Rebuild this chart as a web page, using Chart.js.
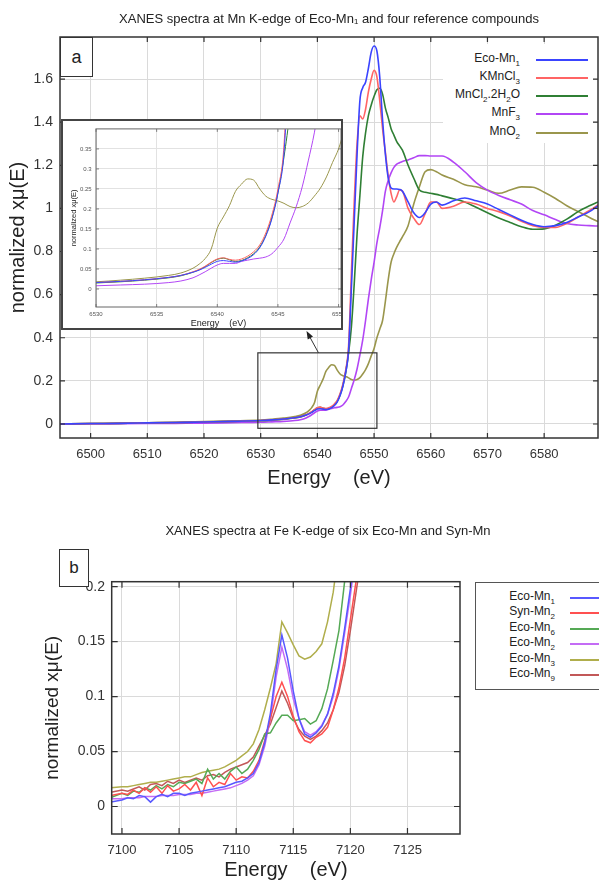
<!DOCTYPE html>
<html>
<head>
<meta charset="utf-8">
<script src="https://cdn.jsdelivr.net/npm/chart.js@4.4.1/dist/chart.umd.min.js"></script>
<style>
  html, body { margin: 0; padding: 0; background: #fff; }
  #page { position: relative; width: 599px; height: 882px; overflow: hidden;
          font-family: "Liberation Sans", Arial, Helvetica, sans-serif; color: #222; }
  canvas { position: absolute; display: block; }
  .title { position: absolute; font-size: 13px; line-height: 15px; white-space: nowrap;
           transform: translateX(-50%); color: #222; }
  .tag { position: absolute; box-sizing: border-box; border: 1.5px solid #333; background: #fff;
         display: flex; align-items: center; justify-content: center; color: #222; }
  .legend { position: absolute; background: #fff; box-sizing: border-box; }
  .lgText { position: absolute; text-align: right; line-height: 14px; white-space: nowrap; color: #222; }
  .lgLine { position: absolute; height: 2px; }
  sub { font-size: 8px; line-height: 0; vertical-align: -4px; }
  #insetBox { position: absolute; left: 61px; top: 119px; width: 282px; height: 211px;
              box-sizing: border-box; border: 2px solid #444; background: #fff; overflow: hidden; }
</style>
</head>
<body>
<div id="page">
  <canvas id="mnChart" width="599" height="495" style="left:0;top:0"></canvas>
  <div class="title" style="left:329px;top:10.5px">XANES spectra at Mn K-edge of Eco-Mn₁ and four reference compounds</div>
  <div class="tag" style="left:60px;top:37px;width:33px;height:40px;font-size:18px">a</div>
  <div id="mnLegend" class="legend" style="left:443px;top:44px;width:150px;height:99px"></div>
  <div id="insetBox"><canvas id="insetChart" width="300" height="207" style="left:0;top:0"></canvas></div>

  <canvas id="feChart" width="599" height="382" style="left:0;top:500px"></canvas>
  <div class="title" style="left:328px;top:522.5px">XANES spectra at Fe K-edge of six Eco-Mn and Syn-Mn</div>
  <div class="tag" style="left:59px;top:549px;width:30px;height:38px;font-size:17px">b</div>
  <div id="feLegend" class="legend" style="left:475px;top:582px;width:140px;height:108px;border:1px solid #555"></div>
</div>

<script>
// ---------- Mn K-edge spectra (panel a) ----------
const mnEnergy = [
  6494.6, 6500, 6505, 6510, 6515, 6520, 6525, 6530,
  6532, 6534, 6536, 6537, 6538, 6538.5, 6539, 6539.5,
  6540, 6540.5, 6541, 6541.5, 6542, 6542.5, 6543, 6543.5,
  6544, 6544.5, 6545, 6545.5, 6546, 6546.5, 6547, 6547.5,
  6548, 6548.5, 6549, 6549.5, 6550, 6550.5, 6551, 6551.5,
  6552, 6552.5, 6553, 6553.5, 6554, 6554.5, 6555, 6556,
  6557, 6558, 6559, 6560, 6561, 6562, 6564, 6566,
  6568, 6570, 6572, 6574, 6576, 6578, 6580, 6582,
  6584, 6586, 6588, 6589.5
];
const mnEcoMn1 = [
  0.000, 0.002, 0.003, 0.005, 0.007, 0.009, 0.012, 0.016,
  0.019, 0.023, 0.029, 0.034, 0.042, 0.047, 0.054, 0.062,
  0.069, 0.071, 0.069, 0.067, 0.070, 0.076, 0.086, 0.103,
  0.132, 0.175, 0.240, 0.340, 0.630, 0.940, 1.250, 1.500,
  1.560, 1.585, 1.650, 1.725, 1.753, 1.730, 1.610, 1.410,
  1.250, 1.140, 1.095, 1.090, 1.090, 1.088, 1.080, 1.030,
  0.980, 0.958, 0.980, 1.020, 1.030, 1.015, 1.035, 1.048,
  1.035, 1.020, 0.995, 0.970, 0.945, 0.925, 0.915, 0.920,
  0.935, 0.960, 0.985, 1.012
];
const mnKMnCl3 = [
  0.000, 0.002, 0.003, 0.005, 0.007, 0.009, 0.012, 0.016,
  0.019, 0.023, 0.029, 0.034, 0.043, 0.049, 0.057, 0.067,
  0.075, 0.078, 0.074, 0.072, 0.075, 0.082, 0.093, 0.110,
  0.140, 0.185, 0.250, 0.360, 0.700, 1.030, 1.300, 1.430,
  1.415, 1.460, 1.540, 1.600, 1.640, 1.610, 1.500, 1.370,
  1.260, 1.150, 1.070, 1.030, 1.055, 1.085, 1.080, 1.000,
  0.955, 0.925, 0.975, 1.030, 1.030, 1.000, 1.010, 1.030,
  1.020, 1.000, 0.985, 0.965, 0.940, 0.920, 0.912, 0.912,
  0.930, 0.960, 0.990, 1.016
];
const mnMnCl2 = [
  0.000, 0.002, 0.003, 0.005, 0.007, 0.009, 0.012, 0.015,
  0.018, 0.022, 0.028, 0.033, 0.042, 0.048, 0.056, 0.066,
  0.074, 0.077, 0.073, 0.069, 0.071, 0.078, 0.088, 0.105,
  0.134, 0.178, 0.240, 0.330, 0.450, 0.650, 0.880, 1.060,
  1.240, 1.350, 1.430, 1.480, 1.520, 1.550, 1.557, 1.530,
  1.465, 1.420, 1.370, 1.340, 1.310, 1.290, 1.270, 1.200,
  1.140, 1.085, 1.075, 1.070, 1.065, 1.058, 1.045, 1.030,
  1.005, 0.980, 0.955, 0.935, 0.915, 0.903, 0.905, 0.922,
  0.950, 0.985, 1.012, 1.030
];
const mnMnF3 = [
  0.000, 0.000, 0.001, 0.002, 0.003, 0.004, 0.006, 0.008,
  0.010, 0.012, 0.016, 0.020, 0.028, 0.035, 0.043, 0.052,
  0.060, 0.064, 0.064, 0.064, 0.069, 0.072, 0.075, 0.077,
  0.080, 0.088, 0.104, 0.125, 0.165, 0.205, 0.255, 0.320,
  0.390, 0.480, 0.580, 0.670, 0.750, 0.840, 0.910, 0.990,
  1.080, 1.130, 1.165, 1.190, 1.205, 1.212, 1.218, 1.225,
  1.235, 1.245, 1.245, 1.243, 1.243, 1.243, 1.215, 1.170,
  1.120, 1.085, 1.060, 1.040, 1.020, 0.990, 0.970, 0.948,
  0.930, 0.923, 0.920, 0.918
];
const mnMnO2 = [
  0.000, 0.002, 0.004, 0.006, 0.008, 0.011, 0.014, 0.018,
  0.022, 0.027, 0.034, 0.040, 0.052, 0.062, 0.076, 0.100,
  0.152, 0.180, 0.208, 0.244, 0.262, 0.275, 0.272, 0.250,
  0.232, 0.224, 0.220, 0.214, 0.206, 0.203, 0.206, 0.215,
  0.232, 0.252, 0.280, 0.316, 0.350, 0.400, 0.440, 0.480,
  0.570, 0.670, 0.750, 0.790, 0.820, 0.845, 0.868, 0.920,
  1.020, 1.100, 1.170, 1.180, 1.170, 1.155, 1.135, 1.110,
  1.100, 1.085, 1.070, 1.085, 1.100, 1.098, 1.075, 1.046,
  1.012, 0.985, 0.958, 0.939
];
const mnNames  = ['Eco-Mn₁', 'KMnCl₃', 'MnCl₂.2H₂O', 'MnF₃', 'MnO₂'];
const mnColors = ['#3a44ff', '#ff6464', '#2f7f34', '#b246f5', '#9a964c'];
const mnTicksX = [6500, 6510, 6520, 6530, 6540, 6550, 6560, 6570, 6580];
const mnTicksY = [0, 0.2, 0.4, 0.6, 0.8, 1, 1.2, 1.4, 1.6];
const insetTicksX = [6530, 6535, 6540, 6545, 6550];
const insetTicksY = [0, 0.05, 0.1, 0.15, 0.2, 0.25, 0.3, 0.35];
// energy / absorption window enlarged in the inset
const insetWindowE = [6529.5, 6550.5];
const insetWindowMu = [-0.02, 0.33];

// ---------- Fe K-edge spectra (panel b) ----------
const feEnergy = [
  7099, 7100, 7100.5, 7101, 7101.5, 7102, 7102.5, 7103,
  7103.5, 7104, 7104.5, 7105, 7105.5, 7106, 7106.5, 7107,
  7107.5, 7108, 7108.5, 7109, 7109.5, 7110, 7110.5, 7111,
  7111.5, 7112, 7112.5, 7113, 7113.5, 7114, 7114.5, 7115,
  7115.5, 7116, 7116.5, 7117, 7117.5, 7118, 7118.5, 7119,
  7119.5, 7120, 7120.5, 7121
];
const feEcoMn1 = [
  0.004, 0.006, 0.008, 0.007, 0.010, 0.009, 0.004, 0.009,
  0.011, 0.009, 0.012, 0.012, 0.010, 0.012, 0.013, 0.014,
  0.015, 0.016, 0.017, 0.018, 0.020, 0.022, 0.023, 0.026,
  0.030, 0.040, 0.058, 0.085, 0.125, 0.156, 0.135, 0.105,
  0.080, 0.066, 0.063, 0.067, 0.073, 0.084, 0.103, 0.128,
  0.162, 0.198, 0.240, 0.280
];
const feSynMn2 = [
  0.010, 0.012, 0.011, 0.015, 0.012, 0.017, 0.013, 0.018,
  0.012, 0.019, 0.014, 0.016, 0.020, 0.015, 0.022, 0.010,
  0.026, 0.018, 0.022, 0.020, 0.030, 0.024, 0.027, 0.026,
  0.032, 0.042, 0.060, 0.080, 0.100, 0.113, 0.100, 0.082,
  0.068, 0.060, 0.058, 0.063, 0.066, 0.072, 0.088, 0.108,
  0.135, 0.170, 0.205, 0.240
];
const feEcoMn6 = [
  0.008, 0.012, 0.010, 0.014, 0.013, 0.017, 0.015, 0.019,
  0.016, 0.020, 0.018, 0.022, 0.021, 0.023, 0.025, 0.021,
  0.034, 0.025, 0.030, 0.025, 0.032, 0.036, 0.030, 0.034,
  0.042, 0.052, 0.066, 0.067, 0.076, 0.083, 0.083, 0.078,
  0.079, 0.080, 0.075, 0.078, 0.089, 0.107, 0.133, 0.160,
  0.205, 0.250, 0.300, 0.350
];
const feEcoMn2 = [
  0.007, 0.007, 0.008, 0.008, 0.008, 0.009, 0.009, 0.009,
  0.010, 0.010, 0.010, 0.011, 0.011, 0.011, 0.012, 0.012,
  0.013, 0.014, 0.015, 0.016, 0.017, 0.019, 0.021, 0.024,
  0.028, 0.038, 0.055, 0.080, 0.118, 0.145, 0.125, 0.098,
  0.080, 0.068, 0.065, 0.068, 0.074, 0.084, 0.100, 0.125,
  0.158, 0.192, 0.232, 0.272
];
const feEcoMn3 = [
  0.017, 0.018, 0.018, 0.019, 0.020, 0.021, 0.022, 0.022,
  0.023, 0.024, 0.025, 0.026, 0.027, 0.027, 0.029, 0.031,
  0.032, 0.033, 0.034, 0.036, 0.039, 0.042, 0.046, 0.050,
  0.057, 0.070, 0.088, 0.108, 0.130, 0.168, 0.158, 0.147,
  0.137, 0.134, 0.136, 0.141, 0.148, 0.168, 0.195, 0.235,
  0.280, 0.330, 0.380, 0.420
];
const feEcoMn9 = [
  0.013, 0.015, 0.014, 0.016, 0.018, 0.015, 0.020, 0.021,
  0.019, 0.023, 0.021, 0.024, 0.022, 0.024, 0.026, 0.024,
  0.028, 0.029, 0.027, 0.031, 0.034, 0.036, 0.038, 0.040,
  0.045, 0.055, 0.065, 0.075, 0.090, 0.105, 0.094, 0.080,
  0.070, 0.064, 0.061, 0.064, 0.069, 0.076, 0.088, 0.104,
  0.128, 0.160, 0.195, 0.230
];
const feNames  = ['Eco-Mn₁', 'Syn-Mn₂', 'Eco-Mn₆', 'Eco-Mn₂', 'Eco-Mn₃', 'Eco-Mn₉'];
const feColors = ['#5858ff', '#ff5050', '#55a955', '#c46cf5', '#b0ae4c', '#c25858'];
const feTicksX = [7100, 7105, 7110, 7115, 7120, 7125];
const feTicksY = [0, 0.05, 0.1, 0.15, 0.2];

// ---------- helpers ----------
const FONT = '"Liberation Sans", Arial, Helvetica, sans-serif';
Chart.defaults.font.family = FONT;

const pts = (xs, ys) => xs.map((x, i) => ({ x: x, y: ys[i] }));
const fixedTicks = values => scale => { scale.ticks = values.map(v => ({ value: v })); };
const plain = v => String(v);
const SUB_DIGITS = '₀₁₂₃₄₅₆₇₈₉';
const richName = s => s.replace(/[₀-₉]/g, c => '<sub>' + SUB_DIGITS.indexOf(c) + '</sub>');

// plot frame with inward tick marks on all four sides
const frameTicks = {
  id: 'frameTicks',
  afterDraw(chart, args, o) {
    const { ctx, chartArea: a, scales: { x, y } } = chart;
    ctx.save();
    ctx.strokeStyle = o.color;
    ctx.lineWidth = o.tickWidth;
    ctx.beginPath();
    for (const t of x.ticks) {
      const px = x.getPixelForValue(t.value);
      ctx.moveTo(px, a.bottom); ctx.lineTo(px, a.bottom - o.length);
      ctx.moveTo(px, a.top); ctx.lineTo(px, a.top + o.length);
    }
    for (const t of y.ticks) {
      const py = y.getPixelForValue(t.value);
      ctx.moveTo(a.left, py); ctx.lineTo(a.left + o.length, py);
      ctx.moveTo(a.right, py); ctx.lineTo(a.right - o.length, py);
    }
    ctx.stroke();
    ctx.lineWidth = o.width;
    ctx.strokeRect(a.left, a.top, a.right - a.left, a.bottom - a.top);
    ctx.restore();
  }
};

// box marking the enlarged window, with an arrow pointing to the inset
const zoomMark = {
  id: 'zoomMark',
  afterDatasetsDraw(chart, args, o) {
    const { ctx, scales: { x, y } } = chart;
    const l = x.getPixelForValue(o.e[0]), r = x.getPixelForValue(o.e[1]);
    const t = y.getPixelForValue(o.mu[1]), b = y.getPixelForValue(o.mu[0]);
    ctx.save();
    ctx.strokeStyle = '#333';
    ctx.lineWidth = 1.2;
    ctx.strokeRect(l, t, r - l, b - t);
    const sx = x.getPixelForValue(o.arrowFrom), sy = t;
    const ex = sx - o.dx, ey = o.tipY;
    const ang = Math.atan2(ey - sy, ex - sx), c = Math.cos(ang), s = Math.sin(ang);
    ctx.lineWidth = 1;
    ctx.beginPath(); ctx.moveTo(sx, sy); ctx.lineTo(ex - 5 * c, ey - 5 * s); ctx.stroke();
    ctx.beginPath();
    ctx.moveTo(ex, ey);
    ctx.lineTo(ex - 8 * c + 3 * s, ey - 8 * s - 3 * c);
    ctx.lineTo(ex - 8 * c - 3 * s, ey - 8 * s + 3 * c);
    ctx.closePath();
    ctx.fillStyle = '#222';
    ctx.fill();
    ctx.restore();
  }
};

function lineSets(xs, seriesList, names, colors, width, smooth) {
  return seriesList.map((ys, i) => ({
    label: names[i],
    data: pts(xs, ys),
    borderColor: colors[i],
    borderWidth: width,
    pointRadius: 0,
    fill: false,
    cubicInterpolationMode: smooth ? 'monotone' : 'default',
    tension: 0
  }));
}

function axes(o) {
  return {
    x: {
      type: 'linear', min: o.xMin, max: o.xMax,
      afterBuildTicks: fixedTicks(o.ticksX),
      afterFit: s => { s.height = o.xHeight; },
      grid: { color: o.gridColor, lineWidth: 1, drawTicks: false },
      border: { display: false },
      ticks: { autoSkip: false, maxRotation: 0, padding: o.xPad, color: o.tickColor,
               font: { size: o.xFont, family: FONT }, callback: plain },
      title: { display: true, text: 'Energy    (eV)', color: '#222',
               font: { size: o.xTitleFont, family: FONT, lineHeight: o.xTitleLH || 1.2 },
               padding: { top: 0, bottom: o.xTitlePad } }
    },
    y: {
      type: 'linear', min: o.yMin, max: o.yMax,
      afterBuildTicks: fixedTicks(o.ticksY),
      afterFit: s => { s.width = o.yWidth; },
      grid: { color: o.gridColor, lineWidth: 1, drawTicks: false },
      border: { display: false },
      ticks: { autoSkip: false, padding: o.yPad, color: o.tickColor,
               font: { size: o.yFont, family: FONT }, callback: plain },
      title: { display: true, text: 'normalized xμ(E)', color: '#222',
               font: { size: o.yTitleFont, family: FONT, lineHeight: 1.2 },
               padding: { top: o.yTitlePad, bottom: 0 } }
    }
  };
}

const base = {
  responsive: false, animation: false, devicePixelRatio: 1, events: [],
};

const mnSeries = [mnEcoMn1, mnKMnCl3, mnMnCl2, mnMnF3, mnMnO2];

// main Mn K-edge chart
new Chart(document.getElementById('mnChart'), {
  type: 'line',
  data: { datasets: lineSets(mnEnergy, mnSeries, mnNames, mnColors, 1.6, true) },
  plugins: [zoomMark, frameTicks],
  options: Object.assign({}, base, {
    layout: { padding: { top: 37, right: 1, left: 0, bottom: 0 } },
    plugins: {
      legend: { display: false }, title: { display: false }, tooltip: { enabled: false },
      frameTicks: { color: '#333', width: 1.5, tickWidth: 1.2, length: 5 },
      zoomMark: { e: insetWindowE, mu: insetWindowMu, arrowFrom: 6540.2, dx: 12, tipY: 331 }
    },
    scales: axes({
      xMin: 6494.6, xMax: 6589.5, ticksX: mnTicksX, xHeight: 57, xPad: 9, xFont: 13,
      xTitleFont: 20, xTitlePad: 5,
      yMin: -0.065, yMax: 1.795, ticksY: mnTicksY, yWidth: 60, yPad: 7, yFont: 14,
      yTitleFont: 20, yTitlePad: 6,
      gridColor: '#dadada', tickColor: '#333'
    })
  })
});

// inset: pre-edge region of the same spectra
new Chart(document.getElementById('insetChart'), {
  type: 'line',
  data: { datasets: lineSets(mnEnergy, mnSeries, mnNames, mnColors, 1, true) },
  plugins: [frameTicks],
  options: Object.assign({}, base, {
    layout: { padding: { top: 1, right: 22, left: 0, bottom: 0 } },
    plugins: {
      legend: { display: false }, title: { display: false }, tooltip: { enabled: false },
      frameTicks: { color: '#666', width: 1, tickWidth: 0.8, length: 3 }
    },
    scales: axes({
      xMin: 6530, xMax: 6550.2, ticksX: insetTicksX, xHeight: 21, xPad: 3.5, xFont: 6,
      xTitleFont: 9, xTitlePad: 0, xTitleLH: 1.0,
      yMin: -0.045, yMax: 0.4, ticksY: insetTicksY, yWidth: 33, yPad: 4.3, yFont: 6,
      yTitleFont: 7.5, yTitlePad: 6.5,
      gridColor: '#e2e2e2', tickColor: '#555'
    })
  })
});

// Fe K-edge chart
new Chart(document.getElementById('feChart'), {
  type: 'line',
  data: { datasets: lineSets(feEnergy,
    [feEcoMn1, feSynMn2, feEcoMn6, feEcoMn2, feEcoMn3, feEcoMn9], feNames, feColors, 1.5, false) },
  plugins: [frameTicks],
  options: Object.assign({}, base, {
    layout: { padding: { top: 81.7, right: 139, left: 0, bottom: 0 } },
    plugins: {
      legend: { display: false }, title: { display: false }, tooltip: { enabled: false },
      frameTicks: { color: '#333', width: 1.5, tickWidth: 1.2, length: 6 }
    },
    scales: axes({
      xMin: 7099.1, xMax: 7129.6, ticksX: feTicksX, xHeight: 48, xPad: 8.2, xFont: 13,
      xTitleFont: 20, xTitlePad: 0,
      yMin: -0.025, yMax: 0.2045, ticksY: feTicksY, yWidth: 111.7, yPad: 6.7, yFont: 14,
      yTitleFont: 19, yTitlePad: 41.6,
      gridColor: '#dadada', tickColor: '#333'
    })
  })
});

// legends (HTML so the chemical subscripts render properly)
function buildLegend(el, names, colors, g) {
  names.forEach((n, i) => {
    const cy = g.firstY + i * g.step;
    const txt = document.createElement('div');
    txt.className = 'lgText';
    txt.style.cssText = 'left:0;width:' + g.textRight + 'px;top:' + (cy - g.lift - 7) +
                        'px;font-size:' + g.size + 'px';
    txt.innerHTML = richName(n);
    el.appendChild(txt);
    const ln = document.createElement('div');
    ln.className = 'lgLine';
    ln.style.cssText = 'left:' + g.lineLeft + 'px;width:' + g.lineWidth + 'px;top:' + (cy - 1) +
                       'px;background:' + colors[i];
    el.appendChild(ln);
  });
}
buildLegend(document.getElementById('mnLegend'), mnNames, mnColors,
  { firstY: 15.5, step: 18.25, textRight: 77, lineLeft: 93, lineWidth: 52, lift: 2, size: 12 });
buildLegend(document.getElementById('feLegend'), feNames, feColors,
  { firstY: 14.7, step: 15.45, textRight: 79, lineLeft: 94, lineWidth: 45, lift: 2, size: 12 });
</script>
</body>
</html>
